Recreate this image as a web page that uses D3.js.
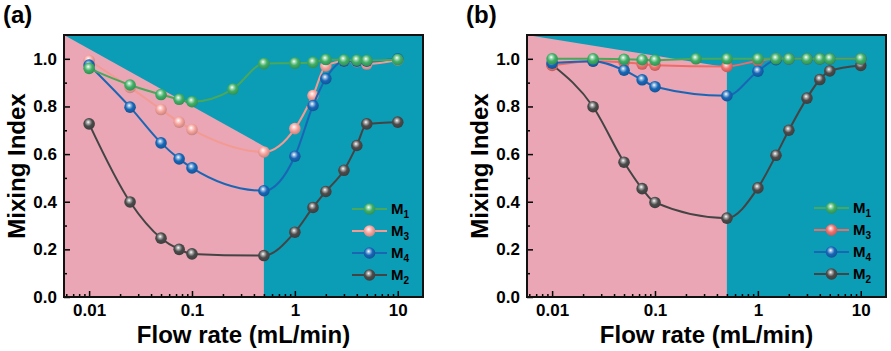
<!DOCTYPE html>
<html lang="en">
<head>
<meta charset="UTF-8">
<title>Mixing Index vs Flow rate</title>
<style>
    body { margin: 0; background: #fff; }
    text { font-family: Arial, "Liberation Sans", Helvetica, sans-serif; font-weight: bold; fill: #000; }
</style>
</head>
<body>
<svg id="chart" width="891" height="351"></svg>
<script src="https://cdn.jsdelivr.net/npm/d3@7"></script>
<script>
// flow rates (mL/min), shared by every series; null = no point at that rate
var flowRates = [0.01, 0.025, 0.05, 0.075, 0.1, 0.25, 0.5, 1, 1.5, 2, 3, 4, 5, 10];

// panel (a)
var aM1 = [0.96, 0.89, 0.85, 0.83, 0.82, 0.873, 0.98, 0.982, 0.985, 0.997, 0.995, 0.994, 0.993, 0.997];
var aM3 = [0.993, 0.88, 0.787, 0.734, 0.703, null, 0.609, 0.707, 0.846, 0.97, 0.99, 0.988, 0.978, 0.995];
var aM4 = [0.974, 0.797, 0.647, 0.58, 0.542, null, 0.446, 0.591, 0.804, 0.917, 0.99, 0.99, 0.99, 1.0];
var aM2 = [0.727, 0.399, 0.247, 0.2, 0.181, null, 0.174, 0.272, 0.376, 0.443, 0.532, 0.636, 0.727, 0.734];

// panel (b)
var bM1 = [1.0, 1.0, 0.998, 0.996, 0.994, 1.0, 1.0, 1.0, 1.0, 1.0, 1.0, 1.0, 1.0, 1.0];
var bM3 = [0.972, 0.99, 0.986, 0.978, 0.973, null, 0.968, 0.992, 1.0, 1.0, 1.0, 1.0, 1.0, 1.0];
var bM4 = [0.982, 0.99, 0.952, 0.912, 0.883, null, 0.845, 0.948, 0.996, 1.0, 1.0, 1.0, 1.0, 1.0];
var bM2 = [0.975, 0.799, 0.566, 0.455, 0.397, null, 0.331, 0.458, 0.595, 0.7, 0.835, 0.913, 0.949, 0.972];

var xMajor = [0.01, 0.1, 1, 10];
var yMajor = [0, 0.2, 0.4, 0.6, 0.8, 1.0];
var yMinor = [0.1, 0.3, 0.5, 0.7, 0.9];

// shaded regime boundary: split at 0.5 mL/min, diagonal top edge ends at these indices
var splitFlow = 0.5;
var aDiagEnd = 0.633;
var bDiagEnd = 0.965;

var xMin = 0.0057, xMax = 17.6, yMax = 1.1;

var svg = d3.select("#chart");
var defs = svg.append("defs");

var plotTop = 35, plotBottom = 297;

var panels = [
    {
        id: "a", left: 64, right: 423, diagEnd: aDiagEnd,
        series: [
            { name: "M", sub: "2", vals: aM2, color: "#4b4b4b", line: "#444" },
            { name: "M", sub: "3", vals: aM3, color: "#f6a29c", line: "#f39a92" },
            { name: "M", sub: "4", vals: aM4, color: "#1767b8", line: "#1a66b5" },
            { name: "M", sub: "1", vals: aM1, color: "#3fb066", line: "#4aa85a" }
        ],
        legendOrder: [3, 1, 2, 0],
        legend: { x0: 352, x1: 387, xt: 391, ys: [209, 231, 253, 275] }
    },
    {
        id: "b", left: 527, right: 886, diagEnd: bDiagEnd,
        series: [
            { name: "M", sub: "2", vals: bM2, color: "#4b4b4b", line: "#444" },
            { name: "M", sub: "3", vals: bM3, color: "#f0706c", line: "#ee6b66" },
            { name: "M", sub: "4", vals: bM4, color: "#1767b8", line: "#1a66b5" },
            { name: "M", sub: "1", vals: bM1, color: "#3fb066", line: "#4aa85a" }
        ],
        legendOrder: [3, 1, 2, 0],
        legend: { x0: 814, x1: 849, xt: 853, ys: [208, 230, 252, 274] }
    }
];

function makeGradient(id, color) {
    var g = defs.append("radialGradient")
        .attr("id", id)
        .attr("cx", "0.45").attr("cy", "0.4")
        .attr("fx", "0.42").attr("fy", "0.35")
        .attr("r", "0.6");
    g.append("stop").attr("offset", "0").attr("stop-color", "#ffffff");
    g.append("stop").attr("offset", "0.22").attr("stop-color", d3.interpolateRgb(color, "#fff")(0.55));
    g.append("stop").attr("offset", "0.55").attr("stop-color", color);
    g.append("stop").attr("offset", "1").attr("stop-color", d3.color(color).darker(0.6));
}

function minorLogTicks() {
    var t = [];
    [0.001, 0.01, 0.1, 1, 10].forEach(function (d) {
        for (var k = 2; k <= 9; k++) {
            var v = d * k;
            if (v > xMin && v < xMax) t.push(v);
        }
    });
    return t;
}

panels.forEach(function (p) {
    var x = d3.scaleLog().domain([xMin, xMax]).range([p.left, p.right]);
    var y = d3.scaleLinear().domain([0, yMax]).range([plotBottom, plotTop]);

    var g = svg.append("g");

    // background regimes
    g.append("rect")
        .attr("x", x(xMin)).attr("y", y(yMax))
        .attr("width", x(xMax) - x(xMin)).attr("height", y(0) - y(yMax))
        .attr("fill", "#0b9cb6");

    var region = [[xMin, yMax], [splitFlow, p.diagEnd], [splitFlow, 0], [xMin, 0]];
    g.append("path")
        .attr("d", d3.line()(region.map(function (d) { return [x(d[0]), y(d[1])]; })) + "Z")
        .attr("fill", "#eaa6b5");

    var line = d3.line()
        .x(function (d) { return x(d[0]); })
        .y(function (d) { return y(d[1]); })
        .curve(d3.curveMonotoneX);

    p.series.forEach(function (s, i) {
        var gid = "grad-" + p.id + "-" + i;
        makeGradient(gid, s.color);
        var pts = flowRates.map(function (f, j) { return [f, s.vals[j]]; })
            .filter(function (d) { return d[1] != null; });

        g.append("path")
            .datum(pts)
            .attr("d", line)
            .attr("fill", "none")
            .attr("stroke", s.line)
            .attr("stroke-width", 2);

        g.selectAll(null)
            .data(pts)
            .enter().append("circle")
            .attr("cx", function (d) { return x(d[0]); })
            .attr("cy", function (d) { return y(d[1]); })
            .attr("r", 5.8)
            .attr("fill", "url(#" + gid + ")");
    });

    // axes (ticks inward)
    var xAxis = d3.axisBottom(x).tickValues(xMajor).tickFormat(d3.format(""))
        .tickSizeInner(-6).tickSizeOuter(0).tickPadding(7);
    var xMinorAxis = d3.axisBottom(x).tickValues(minorLogTicks()).tickFormat("")
        .tickSizeInner(-3).tickSizeOuter(0);
    var yAxis = d3.axisLeft(y).tickValues(yMajor).tickFormat(d3.format(".1f"))
        .tickSizeInner(-6).tickSizeOuter(0).tickPadding(7);
    var yMinorAxis = d3.axisLeft(y).tickValues(yMinor).tickFormat("")
        .tickSizeInner(-3).tickSizeOuter(0);

    [xAxis, xMinorAxis].forEach(function (ax) {
        var a = g.append("g").attr("transform", "translate(0," + plotBottom + ")").call(ax);
        a.select(".domain").remove();
        a.selectAll("line").attr("stroke", "#000").attr("stroke-width", 1.5);
        a.selectAll("text").attr("font-size", 17).attr("font-family", null);
    });
    [yAxis, yMinorAxis].forEach(function (ax) {
        var a = g.append("g").attr("transform", "translate(" + p.left + ",0)").call(ax);
        a.select(".domain").remove();
        a.selectAll("line").attr("stroke", "#000").attr("stroke-width", 1.5);
        a.selectAll("text").attr("font-size", 17).attr("font-family", null);
    });

    // frame
    g.append("rect")
        .attr("x", p.left).attr("y", plotTop)
        .attr("width", p.right - p.left).attr("height", plotBottom - plotTop)
        .attr("fill", "none").attr("stroke", "#111").attr("stroke-width", 2);

    // axis titles
    g.append("text")
        .attr("x", (p.left + p.right) / 2).attr("y", 343)
        .attr("text-anchor", "middle").attr("font-size", 24)
        .text("Flow rate (mL/min)");
    g.append("text")
        .attr("transform", "translate(" + (p.left - 39) + "," + ((plotTop + plotBottom) / 2) + ") rotate(-90)")
        .attr("text-anchor", "middle").attr("font-size", 24)
        .text("Mixing Index");

    // panel tag
    g.append("text")
        .attr("x", p.left - 61).attr("y", 23)
        .attr("font-size", 24)
        .text("(" + p.id + ")");

    // legend
    p.legendOrder.forEach(function (si, k) {
        var s = p.series[si];
        var ly = p.legend.ys[k];
        g.append("line")
            .attr("x1", p.legend.x0).attr("x2", p.legend.x1)
            .attr("y1", ly).attr("y2", ly)
            .attr("stroke", s.line).attr("stroke-width", 2);
        g.append("circle")
            .attr("cx", (p.legend.x0 + p.legend.x1) / 2).attr("cy", ly)
            .attr("r", 5.8)
            .attr("fill", "url(#grad-" + p.id + "-" + si + ")");
        var t = g.append("text")
            .attr("x", p.legend.xt).attr("y", ly + 5)
            .attr("font-size", 15);
        t.append("tspan").text(s.name);
        t.append("tspan").attr("font-size", 10).attr("dy", 4).text(s.sub);
    });
});
</script>
</body>
</html>
